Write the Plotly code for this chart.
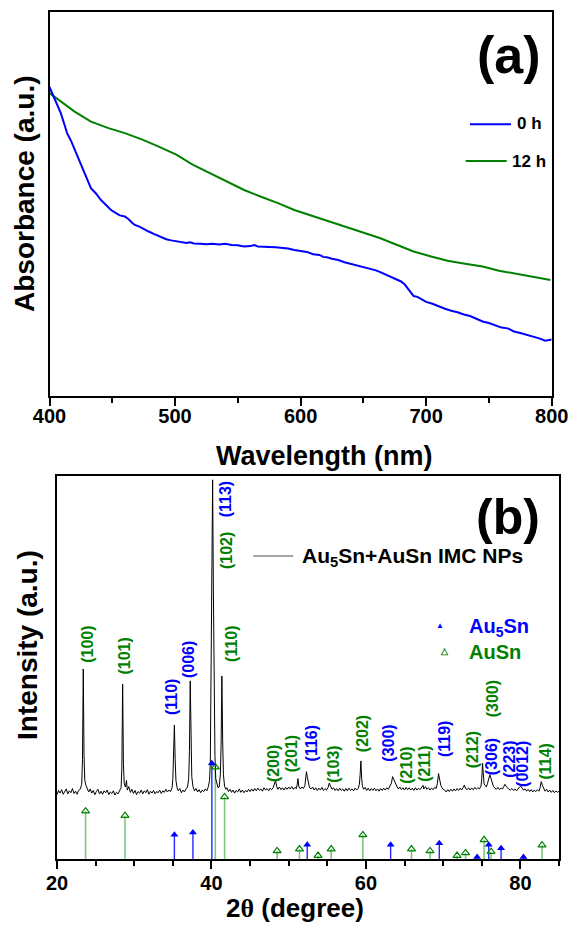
import plotly.graph_objects as go

# ---------------- Panel (a): UV-vis absorbance ----------------
wl_0h = [400, 403, 406, 409, 412, 414, 417, 420, 424, 428, 431, 433, 437, 441, 445, 449,
         453, 456, 460, 463, 466, 468, 472, 475, 479, 483, 487, 491, 493, 497, 501, 505,
         509, 512, 515, 520, 525, 530, 535, 540, 545, 550, 555, 560, 563, 566, 570, 575,
         580, 585, 590, 595, 600, 605, 610, 615, 618, 621, 625, 630, 635, 640, 645, 650,
         655, 660, 663, 667, 672, 676, 680, 683, 686, 688, 690, 693, 697, 700, 705, 710,
         715, 720, 725, 730, 735, 740, 745, 750, 755, 760, 765, 770, 775, 780, 785, 790,
         795, 800]
abs_0h = [0.804, 0.780, 0.760, 0.736, 0.705, 0.684, 0.665, 0.641, 0.612, 0.580, 0.555, 0.541,
          0.527, 0.510, 0.497, 0.484, 0.476, 0.470, 0.467, 0.460, 0.450, 0.445, 0.440, 0.434,
          0.428, 0.422, 0.416, 0.410, 0.408, 0.405, 0.402, 0.401, 0.398, 0.400, 0.397, 0.396,
          0.395, 0.396, 0.394, 0.396, 0.393, 0.392, 0.389, 0.390, 0.393, 0.389, 0.389, 0.388,
          0.387, 0.386, 0.384, 0.380, 0.378, 0.375, 0.369, 0.367, 0.362, 0.361, 0.357, 0.354,
          0.348, 0.344, 0.340, 0.336, 0.331, 0.327, 0.323, 0.317, 0.310, 0.304, 0.298, 0.290,
          0.277, 0.268, 0.260, 0.258, 0.250, 0.245, 0.240, 0.233, 0.227, 0.222, 0.218, 0.212,
          0.208, 0.201, 0.194, 0.190, 0.183, 0.178, 0.176, 0.168, 0.164, 0.160, 0.156, 0.150,
          0.144, 0.147]

wl_12h = [400, 409, 420, 433, 447, 460, 474, 487, 501, 514, 528, 541, 555, 568, 582, 595,
          609, 622, 636, 650, 663, 677, 690, 704, 717, 731, 745, 758, 772, 785, 799]
abs_12h = [0.788, 0.766, 0.740, 0.714, 0.697, 0.684, 0.667, 0.649, 0.628, 0.602, 0.580, 0.558,
           0.536, 0.519, 0.502, 0.484, 0.469, 0.454, 0.441, 0.424, 0.411, 0.393, 0.376, 0.363,
           0.352, 0.344, 0.337, 0.326, 0.318, 0.311, 0.302]

# ---------------- Panel (b): XRD ----------------
two_theta = [20.0, 20.2, 20.4, 20.6, 20.8, 21.0, 21.2, 21.4, 21.6, 21.8, 22.0, 22.2, 22.4, 22.6, 22.8, 23.0,
             23.2, 23.3, 23.4, 23.5, 23.6, 23.75, 23.9,
             24.1, 24.3, 24.5, 24.7, 24.9, 25.1, 25.3, 25.5, 25.7, 25.9, 26.1, 26.3, 26.5, 26.7, 26.9,
             27.1, 27.3, 27.5, 27.7, 27.9, 28.1, 28.3,
             28.4, 28.5, 28.6, 28.7, 28.85, 29.0, 29.1, 29.3, 29.5, 29.7, 29.9, 30.1, 30.3, 30.5, 30.7,
             30.9, 31.1, 31.3, 31.5, 31.7, 31.9, 32.1, 32.3, 32.5, 32.7, 32.9, 33.1, 33.3, 33.5, 33.7,
             33.9, 34.1, 34.3, 34.5, 34.7, 34.9,
             35.0, 35.1, 35.2, 35.3, 35.4, 35.55, 35.7, 35.9, 36.1, 36.3, 36.5, 36.7, 36.9,
             37.05, 37.15, 37.25, 37.35, 37.45, 37.6, 37.8, 38.0, 38.2, 38.4, 38.6, 38.8, 39.0, 39.2,
             39.4, 39.6, 39.75, 39.85, 39.95, 40.05, 40.15, 40.25, 40.35, 40.45, 40.55, 40.7, 40.85,
             41.0, 41.15, 41.25, 41.35, 41.45, 41.55, 41.7, 41.85, 42.0, 42.2, 42.4, 42.6, 42.8,
             43.0, 43.2, 43.4, 43.6, 43.8, 44.0, 44.2, 44.4, 44.6, 44.8, 45.0, 45.2, 45.4, 45.6, 45.8,
             46.0, 46.2, 46.4, 46.6, 46.8, 47.0, 47.2, 47.4, 47.6, 47.8, 48.0, 48.15, 48.3, 48.45,
             48.6, 48.8, 49.0, 49.2, 49.4, 49.6, 49.8, 50.0, 50.2, 50.4, 50.6, 50.8, 51.0, 51.1, 51.2,
             51.3, 51.5, 51.7, 51.9, 52.1, 52.2, 52.3, 52.4, 52.55, 52.7, 52.9, 53.1, 53.3, 53.5, 53.7,
             53.9, 54.1, 54.3, 54.5, 54.7, 54.9, 55.1, 55.25, 55.4, 55.6, 55.8, 56.0, 56.2, 56.4, 56.6,
             56.8, 57.0, 57.2, 57.4, 57.6, 57.8, 58.0, 58.2, 58.4, 58.6, 58.8, 59.0, 59.15, 59.25,
             59.35, 59.45, 59.55, 59.7, 59.9, 60.1, 60.3, 60.5, 60.7, 60.9, 61.1, 61.3, 61.5, 61.7,
             61.9, 62.1, 62.3, 62.5, 62.7, 62.9, 63.1, 63.3, 63.45, 63.6, 63.75, 63.9, 64.05, 64.2,
             64.4, 64.6, 64.8, 65.0, 65.2, 65.4, 65.6, 65.8, 66.0, 66.2, 66.4, 66.6, 66.8, 67.0, 67.2,
             67.4, 67.5, 67.7, 67.9, 68.1, 68.3, 68.5, 68.7, 68.9, 69.1, 69.25, 69.4, 69.55, 69.7,
             69.85, 70.0, 70.2, 70.4, 70.6, 70.8, 71.0, 71.2, 71.4, 71.6, 71.8, 72.0, 72.2, 72.4,
             72.6, 72.75, 72.9, 73.1, 73.3, 73.5, 73.7, 73.9, 74.1, 74.3, 74.5, 74.7, 74.9, 75.0,
             75.1, 75.2, 75.3, 75.45, 75.6, 75.75, 75.9, 76.05, 76.2, 76.35, 76.5, 76.7, 76.9, 77.1,
             77.3, 77.5, 77.7, 77.85, 78.0, 78.15, 78.3, 78.5, 78.7, 78.9, 79.1, 79.3, 79.5, 79.7,
             79.9, 80.05, 80.2, 80.4, 80.6, 80.8, 81.0, 81.2, 81.4, 81.6, 81.8, 82.0, 82.2, 82.4,
             82.55, 82.7, 82.85, 83.0, 83.2, 83.4, 83.6, 83.8, 84.0, 84.2, 84.4, 84.6, 84.8, 85.0]
intensity = [16.8, 17.9, 17.2, 18.1, 16.9, 17.6, 18.3, 17.0, 17.8, 17.3, 18.4, 17.1, 17.7, 16.9, 17.9, 18.2,
             19.5, 26.0, 49.6, 27.0, 20.5, 19.2, 18.6,
             17.5, 18.3, 17.2, 17.9, 16.8, 17.6, 18.2, 17.0, 17.7, 16.9, 17.8, 17.3, 18.0, 16.8, 17.5,
             17.1, 17.8, 16.7, 17.4, 17.0, 17.7, 18.6,
             24.0, 45.7, 25.0, 19.8, 18.8, 20.5, 18.0, 18.9, 17.4, 18.2, 17.1, 17.9, 16.8, 17.6, 17.2,
             18.0, 17.0, 17.8, 17.3, 18.1, 16.9, 17.7, 17.2, 17.9, 17.0, 17.6, 17.3, 18.0, 17.1, 17.8,
             17.4, 18.2, 17.5, 18.0, 17.6, 18.6,
             21.0, 27.0, 35.0, 26.0, 20.5, 18.6, 17.8, 18.4, 17.3, 18.0, 17.5, 18.3, 18.8,
             21.0, 28.0, 46.5, 30.0, 21.5, 19.0, 17.8, 18.4, 17.5, 18.1, 17.3, 18.0, 17.6, 18.3,
             17.8, 18.9, 20.5, 25.0, 60.0, 84.0, 99.0, 70.0, 45.0, 27.0, 21.0, 19.3, 18.6,
             18.8, 22.0, 30.0, 47.8, 31.0, 22.0, 19.0, 18.2, 18.6, 17.6, 18.2, 17.4, 18.0,
             17.2, 17.9, 17.5, 18.3, 17.4, 18.0, 17.3, 17.9, 17.5, 18.2, 17.6, 18.3, 17.7, 18.4, 17.8,
             18.5, 17.9, 18.3, 17.7, 18.6, 18.0, 18.4, 17.8, 18.5, 18.1, 18.7, 19.4, 20.5, 18.9,
             18.2, 18.8, 18.1, 18.6, 18.0, 18.7, 18.2, 18.8, 18.3, 18.9, 18.2, 18.7, 18.4, 19.5, 21.0,
             19.0, 18.3, 18.8, 18.4, 19.2, 21.0, 22.8, 21.5, 19.5, 18.6, 18.3, 18.8, 18.0, 18.6, 17.9,
             18.5, 18.0, 18.7, 17.9, 18.4, 18.0, 18.7, 19.8, 19.0, 18.2, 18.6, 17.9, 18.4, 17.8, 18.5,
             17.9, 18.3, 17.7, 18.4, 17.8, 18.5, 17.9, 18.3, 17.8, 18.5, 18.0, 18.4, 19.5, 22.0,
             25.6, 21.0, 19.0, 18.2, 18.7, 17.9, 18.5, 17.8, 18.4, 17.9, 18.5, 17.8, 18.3, 17.7,
             18.4, 17.9, 18.5, 18.0, 18.6, 18.2, 18.9, 19.8, 21.5, 20.8, 19.8, 19.2, 18.8, 18.3,
             18.8, 18.1, 18.6, 18.0, 18.7, 18.1, 18.6, 18.0, 18.5, 17.9, 18.6, 18.0, 18.5, 18.1, 18.7,
             19.2, 18.3, 18.9, 18.2, 18.6, 18.0, 18.5, 18.1, 18.7, 18.4, 19.8, 22.3, 20.5, 19.2,
             18.6, 18.2, 18.0, 17.5, 18.1, 17.6, 18.2, 17.7, 18.3, 17.8, 18.4, 17.9, 18.5, 18.0,
             18.7, 19.3, 18.4, 18.1, 18.6, 18.0, 18.5, 18.1, 18.7, 18.2, 18.6, 18.3, 19.0, 21.0,
             25.0, 21.5, 19.6, 19.2, 18.8, 19.8, 21.0, 22.0, 21.0, 19.8, 19.0, 18.5, 18.2, 18.7,
             18.1, 18.5, 18.3, 18.9, 19.5, 19.0, 18.6, 18.2, 18.0, 18.4, 17.9, 18.3, 17.8, 18.4,
             18.8, 19.0, 18.5, 18.0, 18.3, 17.7, 18.2, 17.6, 18.1, 17.5, 18.0, 17.6, 18.1, 17.7,
             18.6, 20.2, 19.2, 18.3, 17.7, 18.2, 17.5, 18.0, 17.4, 17.9, 17.3, 17.8, 17.4, 17.7]

# reference stick patterns
au5sn_pos = [35.2, 37.6, 40.05, 52.4, 63.2, 69.5, 74.4, 75.9, 77.5, 80.4]
au5sn_int = [6.3, 6.9, 25.0, 3.7, 3.7, 4.1, 0.5, 3.7, 2.8, 0.5]
ausn_pos = [23.7, 28.8, 40.5, 41.7, 48.5, 51.4, 53.8, 55.5, 59.6, 65.9, 68.3, 71.8, 72.9, 75.3, 76.2, 82.8]
ausn_int = [12.5, 11.3, 24.0, 16.2, 2.1, 2.6, 0.9, 2.6, 6.3, 2.6, 2.1, 0.9, 1.6, 5.0, 1.9, 3.6]

# Miller-index labels
hkl_text = ["(100)", "(101)", "(110)", "(006)", "(102)", "(113)", "(110)", "(200)", "(201)", "(116)",
            "(103)", "(202)", "(300)", "(210)", "(211)", "(119)", "(212)", "(300)", "(306)", "(223)",
            "(0012)", "(114)"]
hkl_phase = ["AuSn", "AuSn", "Au5Sn", "Au5Sn", "AuSn", "Au5Sn", "AuSn", "AuSn", "AuSn", "Au5Sn",
             "AuSn", "AuSn", "Au5Sn", "AuSn", "AuSn", "Au5Sn", "AuSn", "AuSn", "Au5Sn", "Au5Sn",
             "Au5Sn", "AuSn"]
hkl_pos = [23.84, 28.79, 34.82, 36.96, 41.93, 41.93, 42.5, 47.95, 50.32, 52.9,
           55.7, 59.5, 62.9, 65.26, 67.5, 70.1, 73.8, 76.5, 76.2, 78.5,
           80.2, 83.3]
hkl_level = [56.1, 53.1, 42.4, 52.2, 80.5, 94.0, 56.1, 25.0, 27.4, 30.2,
             24.8, 32.6, 30.2, 24.5, 24.8, 31.3, 28.5, 41.8, 26.6, 26.1,
             24.8, 25.4]

# ---------------- figure ----------------
W, H = 574, 925
def fx(p):
    return p / W
def fy(p):
    return 1 - p / H

BLUE = "#0000ff"
GREEN = "#008000"
FONT = "Liberation Sans"

fig = go.Figure()
fig.add_trace(go.Scatter(x=wl_12h, y=abs_12h, mode="lines", name="12 h",
                         line=dict(color=GREEN, width=2), xaxis="x", yaxis="y"))
fig.add_trace(go.Scatter(x=wl_0h, y=abs_0h, mode="lines", name="0 h",
                         line=dict(color=BLUE, width=2), xaxis="x", yaxis="y"))

def sticks(pos, h):
    xs, ys = [], []
    for p, v in zip(pos, h):
        xs += [p, p, None]
        ys += [0, v, None]
    return xs, ys

sx, sy = sticks(ausn_pos, ausn_int)
fig.add_trace(go.Scatter(x=sx, y=sy, mode="lines", line=dict(color="rgba(40,160,40,0.6)", width=1.6),
                         xaxis="x2", yaxis="y2", hoverinfo="skip"))
sx, sy = sticks(au5sn_pos, au5sn_int)
fig.add_trace(go.Scatter(x=sx, y=sy, mode="lines", line=dict(color="rgba(0,0,255,0.85)", width=1.4),
                         xaxis="x2", yaxis="y2", hoverinfo="skip"))
fig.add_trace(go.Scatter(x=two_theta, y=intensity, mode="lines", name="Au5Sn+AuSn IMC NPs",
                         line=dict(color="black", width=1), xaxis="x2", yaxis="y2"))
fig.add_trace(go.Scatter(x=ausn_pos, y=ausn_int, mode="markers", name="AuSn",
                         marker=dict(symbol="triangle-up-open", size=7, color=GREEN,
                                     line=dict(width=1.2, color=GREEN)),
                         xaxis="x2", yaxis="y2"))
fig.add_trace(go.Scatter(x=au5sn_pos, y=au5sn_int, mode="markers", name="Au5Sn",
                         marker=dict(symbol="triangle-up", size=7, color=BLUE),
                         xaxis="x2", yaxis="y2"))

axis_common = dict(showline=True, mirror=True, linecolor="black", linewidth=1.5,
                   showgrid=False, zeroline=False, automargin=False)
tickfont = dict(family=FONT, size=20, color="black", weight="bold")

fig.update_layout(
    width=W, height=H, autosize=False,
    margin=dict(l=0, r=0, t=0, b=0),
    paper_bgcolor="white", plot_bgcolor="white",
    showlegend=False,
    xaxis=dict(domain=[fx(49.5), fx(551.7)], range=[400, 800], anchor="y",
               ticks="outside", ticklen=8, tickwidth=1.5, tickcolor="black",
               tick0=400, dtick=100, tickfont=tickfont, ticklabelstandoff=-7,
               minor=dict(dtick=50, ticks="outside", ticklen=5, tickwidth=1.5, tickcolor="black"),
               **axis_common),
    yaxis=dict(domain=[fy(396), fy(11.7)], range=[0, 1], anchor="x",
               ticks="", showticklabels=False, **axis_common),
    xaxis2=dict(domain=[fx(57), fx(559)], range=[20, 85], anchor="y2",
                ticks="outside", ticklen=8, tickwidth=1.5, tickcolor="black",
                tick0=20, dtick=20, tickfont=tickfont, ticklabelstandoff=-3,
                minor=dict(dtick=5, ticks="outside", ticklen=5, tickwidth=1.5, tickcolor="black"),
                **axis_common),
    yaxis2=dict(domain=[fy(859), fy(476)], range=[0, 100], anchor="x2",
                ticks="", showticklabels=False, **axis_common),
)

ann = []
def text(t, x, y, size, color="black", angle=0, xanchor="center", bold=True, align="center"):
    ann.append(dict(text=t, x=fx(x), y=fy(y), xref="paper", yref="paper", showarrow=False,
                    xanchor=xanchor, yanchor="middle", textangle=angle, align=align,
                    font=dict(family=FONT, size=size, color=color,
                              weight="bold" if bold else "normal")))

# panel labels and axis titles
text("(a)", 508.5, 55, 52)
text("(b)", 507.5, 516.5, 50)
text("Absorbance (a.u.)", 25, 194, 28, angle=-90)
text("Intensity (a.u.)", 27, 645, 28, angle=-90)
text("Wavelength (nm)", 324, 456, 27)
text("2<span style='font-family:Liberation Serif'>θ</span> (degree)", 295, 908, 26)

# legend texts
text("0 h", 515, 124, 17, xanchor="left")
text("12 h", 510, 161, 17, xanchor="left")
text("Au<sub>5</sub>Sn+AuSn IMC NPs", 300, 557, 21, xanchor="left")
text("<span style='color:#0000ff'>Au<sub>5</sub>Sn</span><br><span style='color:#008000'>AuSn</span>",
     467, 639, 20, xanchor="left", align="left")
text("▲", 440, 625.7, 8, color=BLUE)
text("△", 444, 650.7, 9, color=GREEN)

# hkl labels
for t, ph, xp, yl in zip(hkl_text, hkl_phase, hkl_pos, hkl_level):
    ann.append(dict(text=t, x=xp, y=yl, xref="x2", yref="y2", showarrow=False,
                    xanchor="center", yanchor="middle", textangle=-90,
                    font=dict(family=FONT, size=16, weight="bold",
                              color=BLUE if ph == "Au5Sn" else GREEN)))

fig.update_layout(annotations=ann)

shapes = [
    dict(type="line", xref="paper", yref="paper", x0=fx(470), x1=fx(511), y0=fy(124.3), y1=fy(124.3),
         line=dict(color=BLUE, width=2)),
    dict(type="line", xref="paper", yref="paper", x0=fx(465.7), x1=fx(506.7), y0=fy(161), y1=fy(161),
         line=dict(color=GREEN, width=2)),
    dict(type="line", xref="paper", yref="paper", x0=fx(253.3), x1=fx(293.3), y0=fy(556), y1=fy(556),
         line=dict(color="#888888", width=1.5)),
]
fig.update_layout(shapes=shapes)

fig.write_html("out.html", config={"displayModeBar": False},
               post_script="document.body.style.margin='0';")
